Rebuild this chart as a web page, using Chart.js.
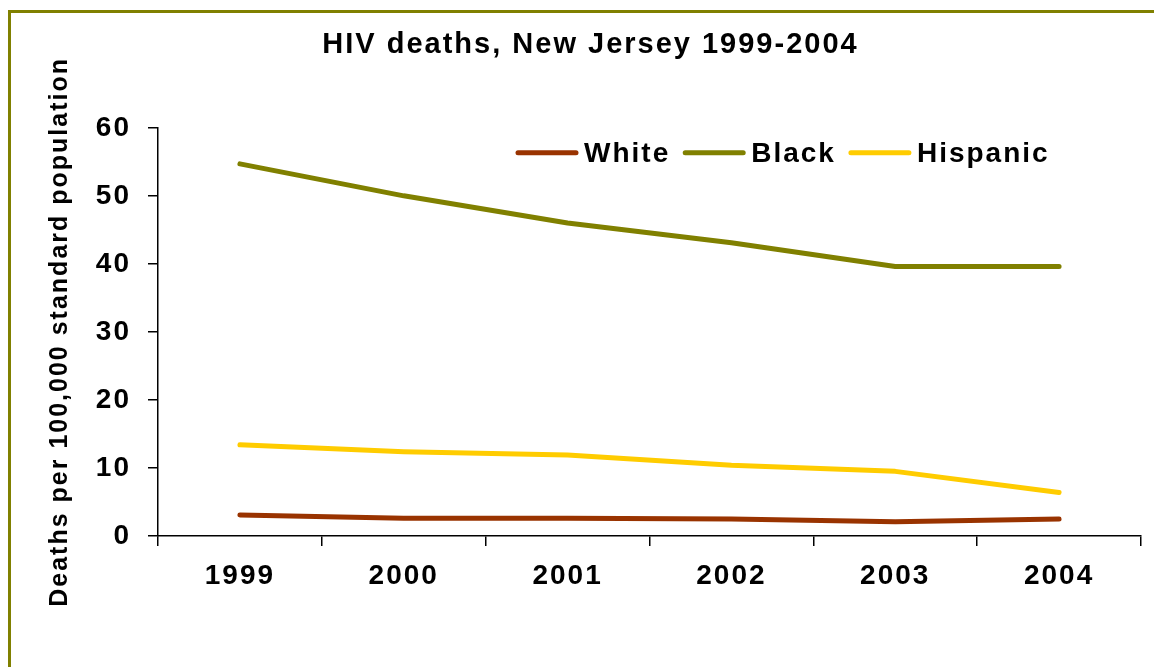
<!DOCTYPE html>
<html lang="en">
<head>
  <meta charset="UTF-8">
  <title>HIV deaths, New Jersey 1999-2004</title>
  <script src="https://cdn.jsdelivr.net/npm/chart.js"></script>
  <style>
    body { margin: 0; background: #fff; overflow: hidden; }
    .frame {
      position: absolute; left: 8px; top: 10px; width: 1200px; height: 700px;
      border-left: 3px solid #808000; border-top: 3px solid #808000;
    }
    #chart { position: absolute; left: 0; top: 0; }
  </style>
</head>
<body>
  <div class="frame"></div>
  <canvas id="chart" width="1154" height="667"></canvas>

  <script>
    // data
    const years    = ['1999', '2000', '2001', '2002', '2003', '2004'];
    const white    = [3.1, 2.6, 2.6, 2.5, 2.1, 2.5];
    const black    = [54.7, 50.0, 46.0, 43.1, 39.6, 39.6];
    const hispanic = [13.4, 12.4, 11.9, 10.4, 9.5, 6.4];
    const yTicks   = [0, 10, 20, 30, 40, 50, 60];

    const fontFamily = "'Liberation Sans', Arial, sans-serif";

    // the old chart has widely spaced letters
    const spacing = {
      id: 'spacing',
      beforeLayout(chart) { chart.ctx.letterSpacing = '2px'; },
      beforeDraw(chart) { chart.ctx.letterSpacing = '2px'; }
    };

    // legend sits inside the plot area, top right
    const innerLegend = {
      id: 'innerLegend',
      afterDatasetsDraw(chart) {
        const ctx = chart.ctx;
        const area = chart.chartArea;
        let x = area.left + 360;
        const y = area.top + 25;
        ctx.save();
        ctx.letterSpacing = '2px';
        ctx.font = 'bold 28px ' + fontFamily;
        ctx.textBaseline = 'middle';
        ctx.fillStyle = '#000';
        chart.data.datasets.forEach(ds => {
          ctx.strokeStyle = ds.borderColor;
          ctx.lineWidth = 5;
          ctx.lineCap = 'round';
          ctx.beginPath();
          ctx.moveTo(x, y);
          ctx.lineTo(x + 58, y);
          ctx.stroke();
          x += 66;
          ctx.fillText(ds.label, x, y + 1);
          x += ctx.measureText(ds.label).width + 15;
        });
        ctx.restore();
      }
    };

    const series = [
      { label: 'White',    data: white,    color: '#993300' },
      { label: 'Black',    data: black,    color: '#808000' },
      { label: 'Hispanic', data: hispanic, color: '#FFCC00' }
    ];

    new Chart(document.getElementById('chart'), {
      type: 'line',
      data: {
        labels: years,
        datasets: series.map(s => ({
          label: s.label,
          data: s.data,
          borderColor: s.color,
          backgroundColor: s.color,
          borderWidth: 5,
          borderCapStyle: 'round',
          borderJoinStyle: 'round',
          pointRadius: 0,
          tension: 0,
          fill: false
        }))
      },
      options: {
        responsive: false,
        animation: false,
        layout: { padding: { left: 40, right: 13, top: 0, bottom: 0 } },
        plugins: {
          legend: { display: false },
          tooltip: { enabled: false },
          title: {
            display: true,
            text: 'HIV deaths, New Jersey 1999-2004',
            color: '#000',
            font: { family: fontFamily, size: 29, weight: 'bold' },
            padding: { top: 28, bottom: 65 }
          }
        },
        scales: {
          x: {
            offset: true,
            grid: { offset: true, drawOnChartArea: false, color: '#000', tickLength: 10, lineWidth: 1.5 },
            border: { color: '#000', width: 1.5 },
            ticks: { color: '#000', padding: 13, font: { family: fontFamily, size: 28, weight: 'bold' } },
            afterFit(scale) { scale.height = 131; }
          },
          y: {
            min: yTicks[0],
            max: yTicks[yTicks.length - 1],
            afterBuildTicks(scale) { scale.ticks = yTicks.map(v => ({ value: v })); },
            grid: { drawOnChartArea: false, color: '#000', tickLength: 10, lineWidth: 1.5 },
            border: { color: '#000', width: 1.5 },
            ticks: { color: '#000', padding: 17, font: { family: fontFamily, size: 28, weight: 'bold' } },
            title: {
              display: true,
              text: 'Deaths per 100,000 standard population',
              color: '#000',
              font: { family: fontFamily, size: 25, weight: 'bold' },
              padding: { top: 5, bottom: 0 }
            },
            afterFit(scale) { scale.width = 118; }
          }
        }
      },
      plugins: [spacing, innerLegend]
    });
  </script>
</body>
</html>
